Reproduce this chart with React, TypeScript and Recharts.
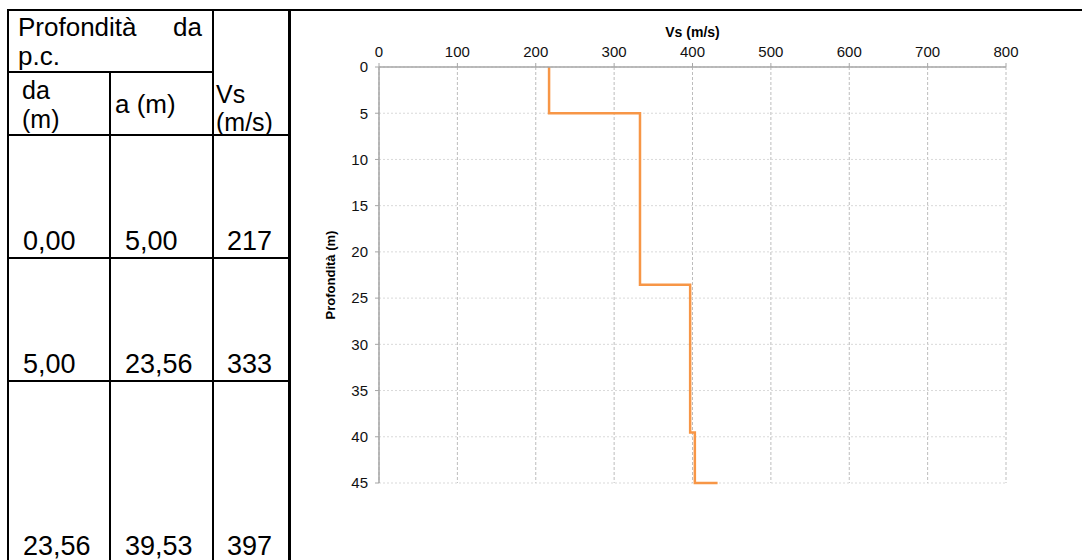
import React from 'react'
import { LineChart, Line, XAxis, YAxis, CartesianGrid, Label } from 'recharts'

// layer table as printed (Italian decimal comma)
const tableFrom = ['0,00', '5,00', '23,56']
const tableTo = ['5,00', '23,56', '39,53']
const tableVs = ['217', '333', '397']

// Vs profile: top of each layer (m) and its shear wave velocity (m/s)
const layerTop = [0, 5, 23.56, 39.53, 45]
const layerVs = [217, 333, 397, 403, 432]
const maxDepth = 45

const vsTicks = [0, 100, 200, 300, 400, 500, 600, 700, 800]
const depthTicks = [0, 5, 10, 15, 20, 25, 30, 35, 40, 45]

// step profile: each layer is a vertical segment at its Vs
const profile = layerTop.flatMap((top, i) => {
  const bottom = i < layerTop.length - 1 ? layerTop[i + 1] : maxDepth
  return [
    { vs: layerVs[i], depth: top },
    { vs: layerVs[i], depth: bottom }
  ]
})

const FONT = '"Liberation Sans", Arial, Helvetica, sans-serif'
const rowBase = [250, 373, 555]
const colX = [23, 125, 227]

function DepthTitle(props: any) {
  const { viewBox } = props
  const cx = viewBox.x + 11
  const cy = viewBox.y + viewBox.height / 2
  return (
    <text
      x={cx}
      y={cy}
      transform={`rotate(-90 ${cx} ${cy})`}
      textAnchor="middle"
      dominantBaseline="central"
      fontSize={13}
      fontWeight="bold"
      fill="#000"
    >
      Profondità (m)
    </text>
  )
}

function LayerTable() {
  const ts = { fontSize: 27, fill: '#000' }
  const hs = { fontSize: 25, fill: '#000' }
  return (
    <svg width={1082} height={560} style={{ position: 'absolute', left: 0, top: 0 }}>
      {/* borders */}
      <rect x={7} y={9} width={1075} height={2} fill="#000" />
      <rect x={7} y={9} width={2} height={551} fill="#000" />
      <rect x={109} y={71} width={2} height={489} fill="#000" />
      <rect x={212} y={9} width={2} height={551} fill="#000" />
      <rect x={288} y={9} width={3} height={551} fill="#000" />
      <rect x={7} y={71} width={207} height={2} fill="#000" />
      <rect x={7} y={134} width={283} height={2} fill="#000" />
      <rect x={7} y={257} width={283} height={2} fill="#000" />
      <rect x={7} y={380} width={283} height={2} fill="#000" />

      {/* header, two-line cells */}
      <text x={18} y={36} {...hs} fontSize={26}>Profondità</text>
      <text x={202} y={36} textAnchor="end" {...hs} fontSize={26}>da</text>
      <text x={18} y={65} {...hs} fontSize={26}>p.c.</text>
      <text x={22} y={99} {...hs}>da</text>
      <text x={22} y={128} {...hs}>(m)</text>
      <text x={115} y={113} {...ts} fontSize={26}>a (m)</text>
      <text x={216} y={103} {...hs}>Vs</text>
      <text x={216} y={131} {...hs}>(m/s)</text>

      {tableFrom.map((v, i) => (
        <g key={i}>
          <text x={colX[0]} y={rowBase[i]} {...ts}>{v}</text>
          <text x={colX[1]} y={rowBase[i]} {...ts}>{tableTo[i]}</text>
          <text x={colX[2]} y={rowBase[i]} {...ts}>{tableVs[i]}</text>
        </g>
      ))}
    </svg>
  )
}

export default function App() {
  return (
    <div
      style={{
        position: 'absolute',
        left: 0,
        top: 0,
        width: 1082,
        height: 560,
        overflow: 'hidden',
        background: '#fff',
        fontFamily: FONT
      }}
    >
      <LayerTable />
      <div style={{ position: 'absolute', left: 290, top: 0 }}>
        <LineChart
          width={792}
          height={560}
          data={profile}
          margin={{ top: 37, right: 76, left: 29, bottom: 77 }}
        >
          <CartesianGrid horizontal={false} stroke="#bdbdbd" strokeDasharray="3 2" />
          <CartesianGrid vertical={false} stroke="#d9d9d9" strokeDasharray="2 2" />
          <XAxis
            dataKey="vs"
            type="number"
            orientation="top"
            domain={[0, 800]}
            ticks={vsTicks}
            height={30}
            tickSize={4}
            tickMargin={6}
            axisLine={{ stroke: '#a6a6a6', strokeWidth: 1.5 }}
            tickLine={{ stroke: '#a6a6a6' }}
            tick={{ fill: '#111', fontSize: 15 }}
          >
            <Label value="Vs (m/s)" position="top" offset={0} fontSize={14} fontWeight="bold" fill="#000" />
          </XAxis>
          <YAxis
            type="number"
            reversed
            domain={[0, maxDepth]}
            ticks={depthTicks}
            width={60}
            tickSize={4}
            tickMargin={7}
            axisLine={{ stroke: '#a6a6a6', strokeWidth: 1.5 }}
            tickLine={{ stroke: '#a6a6a6' }}
            tick={{ fill: '#111', fontSize: 15 }}
          >
            <Label content={DepthTitle} />
          </YAxis>
          <Line
            dataKey="depth"
            type="linear"
            stroke="#f79646"
            strokeWidth={2.5}
            dot={false}
            activeDot={false}
            isAnimationActive={false}
          />
        </LineChart>
      </div>
    </div>
  )
}
